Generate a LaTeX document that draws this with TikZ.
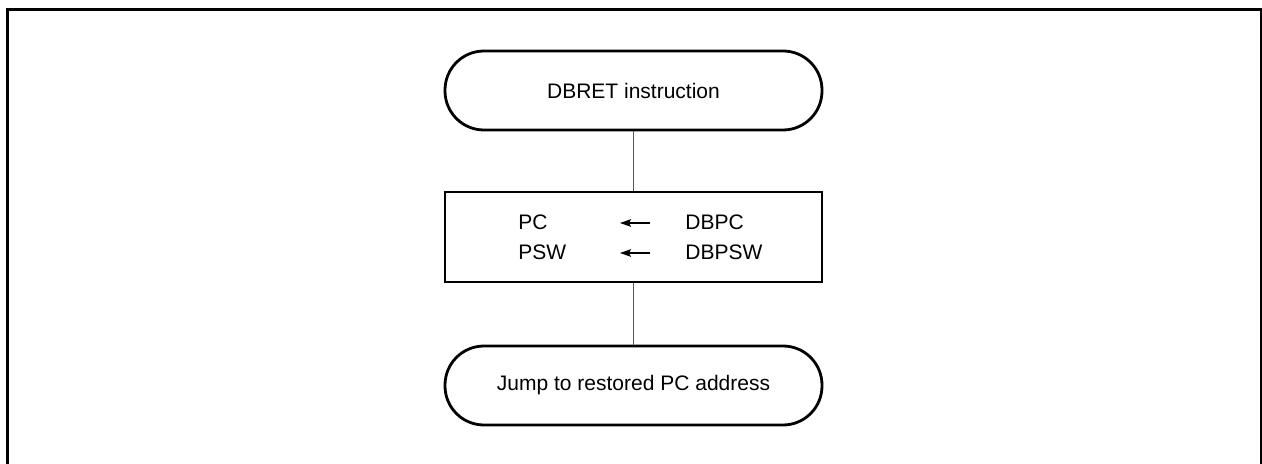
\documentclass[tikz,border=0pt]{standalone}
\usepackage{fontspec}
\setmainfont{Liberation Sans}
\usetikzlibrary{arrows.meta}
\tikzset{
  terminal/.style={draw, line width=1.4pt, rounded corners=19.5pt,
    minimum width=188.5pt, minimum height=39.5pt, inner sep=0pt},
  regbox/.style={draw, line width=1.4pt, minimum width=188.5pt,
    minimum height=45pt, inner sep=0pt},
  reg/.style={anchor=west, inner sep=0pt},
  link/.style={draw=black!65, line width=0.5pt},
  loadarrow/.style={line width=0.6pt, -{Stealth[length=5.5pt,width=3.8pt,inset=1pt]}}
}
\begin{document}
\begin{tikzpicture}[x=0.5pt, y=-0.5pt, font=\fontsize{10.5pt}{12pt}\selectfont]
  \useasboundingbox (0,0) rectangle (1262,464);
  \draw[line width=1.5pt] (7,10) rectangle (1261,480);

  \node[terminal] (start) at (633.5,90.5) {DBRET instruction};
  \node[regbox] (restore) at (633.5,237) {};
  \node[terminal] (jump) at (633.5,385.5) {Jump to restored PC address};

  \draw[link] (start) -- (restore);
  \draw[link] (restore) -- (jump);

  \node[reg] (pc) at (518,222) {PC};
  \node[reg] (psw) at (518,252) {PSW};
  \node[reg] (dbpc) at (685,222) {DBPC};
  \node[reg] (dbpsw) at (685,252) {DBPSW};

  \coordinate (pcfrom) at (650,223);
  \coordinate (pcto) at (620,223);
  \coordinate (pswfrom) at (650,253);
  \coordinate (pswto) at (620,253);
  \draw[loadarrow] (pcfrom) -- (pcto);
  \draw[loadarrow] (pswfrom) -- (pswto);
\end{tikzpicture}
\end{document}
